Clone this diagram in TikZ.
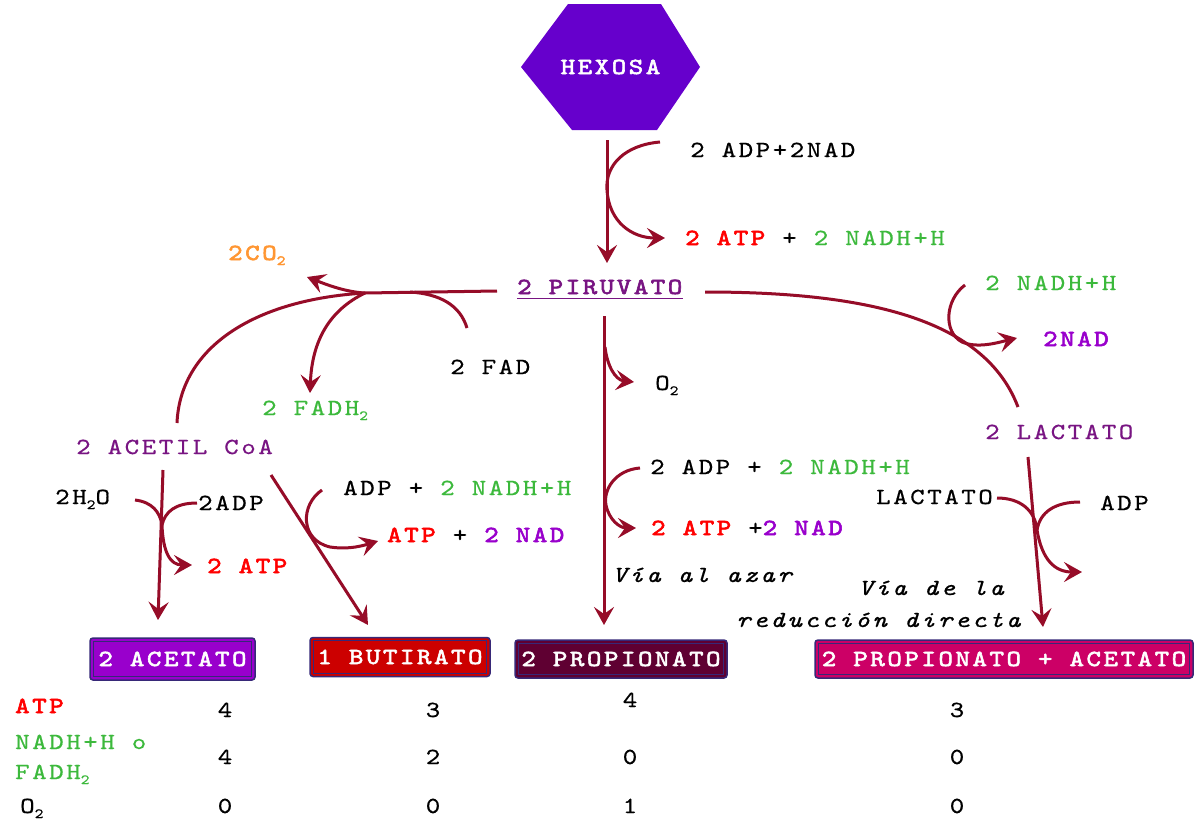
\documentclass[tikz,border=0pt]{standalone}
\usepackage{fontspec}
% typewriter faces, widened and thickened
\newfontfamily\mono{lmmono10-regular.otf}[
  ItalicFont=lmmono10-italic.otf,
  FakeStretch=1.2, FakeBold=0.6, LetterSpace=11]
\newfontfamily\monob{lmmono10-regular.otf}[
  FakeStretch=1.2, FakeBold=2.6, LetterSpace=11]
\usetikzlibrary{arrows.meta,calc}

\definecolor{arrowred}{RGB}{150,12,40}
\definecolor{hexpurple}{RGB}{102,0,204}
\definecolor{txtred}{RGB}{255,0,0}
\definecolor{txtgreen}{RGB}{60,185,60}
\definecolor{txtpurple}{RGB}{120,20,130}
\definecolor{nadpurple}{RGB}{153,0,204}
\definecolor{coorange}{RGB}{255,150,50}
\definecolor{boxline}{RGB}{55,40,120}
\definecolor{acetfill}{RGB}{153,0,204}
\definecolor{butfill}{RGB}{204,0,0}
\definecolor{propfill}{RGB}{95,0,50}
\definecolor{mixfill}{RGB}{204,0,102}

% lowered small "2" for chemical formulas
\newcommand\lowtwo{\raisebox{-5pt}{\fontsize{14}{14}\selectfont 2}}

\begin{document}
\begin{tikzpicture}[x=1pt,y=-1pt,
  lbl/.style={font=\mono\fontsize{23}{23}\selectfont, inner sep=0pt, anchor=west,
              text height=14pt, text depth=0pt},
  num/.style={lbl, anchor=center},
  flow/.style={draw=arrowred, line width=3pt},
  arr/.style={flow, -{Stealth[length=18pt,width=20pt,inset=7pt]}},
  prodbox/.style={rounded corners=3pt, draw=boxline, line width=1.5pt, text=white,
              font=\monob\fontsize{23}{23}\selectfont, inner sep=0pt,
              minimum height=38pt, text height=14pt, text depth=0pt},
  inner/.style={draw=boxline, line width=1pt}
]
\useasboundingbox (0,0) rectangle (1203,822);
\fill[white] (0,0) rectangle (1203,822);

% ---------- hexose ----------
\fill[hexpurple] (521,67) -- (568,4) -- (661,4) -- (700,67) -- (657,130) -- (572,130) -- cycle;
\node[lbl, anchor=center, text=white, font=\monob\fontsize{23}{23}\selectfont] (hexosa) at (610.5,67) {HEXOSA};

% ---------- labels ----------
\node[lbl] (adpnad) at (690,150) {2 ADP+2NAD};
\node[lbl] (atpgly) at (685,238) {\textcolor{txtred}{\monob 2 ATP} + \textcolor{txtgreen}{2 NADH+H}};
\node[lbl, text=txtpurple] (piruvato) at (517,287) {\monob 2 PIRUVATO};
\draw[txtpurple, line width=1.5pt] ([yshift=-4.5pt]piruvato.south west) -- ([yshift=-4.5pt]piruvato.south east);

\node[lbl, text=coorange] (co2) at (228,253) {\monob 2CO\lowtwo};
\node[lbl] (fad) at (450,367) {2 FAD};
\node[lbl, text=txtgreen] (fadh) at (262,408) {2 FADH\lowtwo};
\node[lbl, text=txtpurple] (acetil) at (76,447) {2 ACETIL CoA};
\node[lbl] (water) at (55,497) {2H\lowtwo O};
\node[lbl] (adpa) at (198,503) {2ADP};
\node[lbl, text=txtred] (atpa) at (207,566) {\monob 2 ATP};
\node[lbl] (adpb) at (343,488) {ADP + \textcolor{txtgreen}{2 NADH+H}};
\node[lbl] (atpb) at (387,535) {\textcolor{txtred}{\monob ATP} + \textcolor{nadpurple}{\monob 2 NAD}};
\node[lbl] (oxy) at (655,383) {O\lowtwo};
\node[lbl] (adpc) at (650,467) {2 ADP + \textcolor{txtgreen}{2 NADH+H}};
\node[lbl] (atpc) at (651,528) {\textcolor{txtred}{\monob 2 ATP} +\textcolor{nadpurple}{\monob 2 NAD}};
\node[lbl] (azar) at (612,575) {\itshape Vía al azar};
\node[lbl, text=txtgreen] (nadhd) at (985,283) {2 NADH+H};
\node[lbl, text=nadpurple] (nadd) at (1043,339) {\monob 2NAD};
\node[lbl, text=txtpurple] (lactato) at (985,432) {2 LACTATO};
\node[lbl] (lact) at (876,497) {LACTATO};
\node[lbl] (adpd) at (1100,503) {ADP};
\node[lbl] (via1) at (858,588) {\itshape Vía de la};
\node[lbl] (via2) at (736,620) {\itshape reducción directa};

% ---------- end products ----------
\node[prodbox, fill=acetfill, minimum width=165pt, minimum height=42pt] (acetato) at (172.5,659) {2 ACETATO};
\node[prodbox, fill=butfill, minimum width=180pt, minimum height=39pt] (butirato) at (400,657) {1 BUTIRATO};
\node[prodbox, fill=propfill, minimum width=212pt] (propionato) at (621,659) {2 PROPIONATO};
\node[prodbox, fill=mixfill, minimum width=378pt] (mezcla) at (1004,659) {2 PROPIONATO + ACETATO};
\foreach \b in {acetato,butirato,propionato,mezcla}{
  \draw[inner] ($(\b.south west)+(4,-4)$) rectangle ($(\b.north east)+(-4,4)$);
}

% ---------- yield table ----------
\node[lbl, text=txtred] (tatp) at (15,706) {\monob ATP};
\node[lbl, text=txtgreen] (tnadh) at (15,742) {NADH+H o};
\node[lbl, text=txtgreen] (tfadh) at (15,772) {FADH\lowtwo};
\node[lbl] (toxy) at (20,806) {O\lowtwo};
\node[num] (a1) at (225,710) {4};
\node[num] (a2) at (433,710) {3};
\node[num] (a3) at (630,700) {4};
\node[num] (a4) at (957,710) {3};
\node[num] (n1) at (225,757) {4};
\node[num] (n2) at (433,757) {2};
\node[num] (n3) at (630,757) {0};
\node[num] (n4) at (957,757) {0};
\node[num] (o1) at (225,806) {0};
\node[num] (o2) at (433,806) {0};
\node[num] (o3) at (630,806) {1};
\node[num] (o4) at (957,806) {0};

% ---------- connector end points ----------
\coordinate (g0) at (607,140);   \coordinate (g1) at (607,263);
\coordinate (g2) at (660,142);   \coordinate (g3) at (665,238);
\coordinate (p0) at (497,291);   \coordinate (jx) at (365,293);
\coordinate (c1) at (307,277);   \coordinate (a0) at (177,423);
\coordinate (f1) at (310,393);   \coordinate (f0) at (467,328);
\coordinate (f2) at (410,292);
\coordinate (r0) at (705,292);   \coordinate (r1) at (1018,407);
\coordinate (d0) at (965,285);   \coordinate (d1) at (1017,338);
\coordinate (l0) at (1028,457);  \coordinate (l1) at (1043,627);
\coordinate (l2) at (997,498);   \coordinate (l3) at (1080,502);
\coordinate (lm) at (1037,530);  \coordinate (l4) at (1082,572);
\coordinate (m0) at (604,316);   \coordinate (m1) at (604,625);
\coordinate (o0) at (605,347);   \coordinate (oa) at (634,382);
\coordinate (q0) at (640,468);   \coordinate (q1) at (636,528);
\coordinate (e0) at (163,470);   \coordinate (e1) at (158,620);
\coordinate (w0) at (135,500);   \coordinate (w1) at (197,503);
\coordinate (em) at (162,525);   \coordinate (e2) at (192,565);
\coordinate (b0) at (271,475);   \coordinate (b1) at (368,625);
\coordinate (k0) at (322,490);   \coordinate (k1) at (378,541);

% ---------- glycolysis ----------
\draw[arr] (g0) -- (g1);
\draw[arr] (g2) .. controls (625,145) and (605,165) .. (607,190)
                .. controls (609,222) and (632,238) .. (g3);

% ---------- pyruvate to acetyl-CoA ----------
\draw[flow] (p0) -- (jx);
\draw[arr] (jx) .. controls (345,292) and (325,284) .. (c1);
\draw[flow] (jx) .. controls (250,300) and (180,350) .. (a0);
\draw[arr] (jx) .. controls (330,310) and (312,340) .. (f1);
\draw[flow] (f0) .. controls (460,305) and (440,294) .. (f2);

% ---------- pyruvate to lactate ----------
\draw[flow] (r0) .. controls (870,292) and (985,320) .. (r1);
\draw[arr] (d0) .. controls (945,300) and (943,332) .. (962,342)
                .. controls (978,349) and (1000,342) .. (d1);

% ---------- lactate to propionate + acetate ----------
\draw[arr] (l0) -- (l1);
\draw[flow] (l2) .. controls (1020,498) and (1035,510) .. (lm);
\draw[flow] (l3) .. controls (1055,502) and (1040,512) .. (lm);
\draw[arr] (lm) .. controls (1042,560) and (1055,572) .. (l4);

% ---------- random pathway ----------
\draw[arr] (m0) -- (m1);
\draw[arr] (o0) .. controls (607,365) and (615,380) .. (oa);
\draw[arr] (q0) .. controls (615,470) and (603,490) .. (606,505)
                .. controls (609,520) and (620,528) .. (q1);

% ---------- acetate ----------
\draw[arr] (e0) -- (e1);
\draw[flow] (w0) .. controls (152,502) and (160,512) .. (em);
\draw[flow] (w1) .. controls (175,503) and (165,512) .. (em);
\draw[arr] (em) .. controls (163,552) and (170,565) .. (e2);

% ---------- butyrate ----------
\draw[arr] (b0) -- (b1);
\draw[arr] (k0) .. controls (300,505) and (300,540) .. (330,547)
                .. controls (350,550) and (365,545) .. (k1);
\end{tikzpicture}
\end{document}
